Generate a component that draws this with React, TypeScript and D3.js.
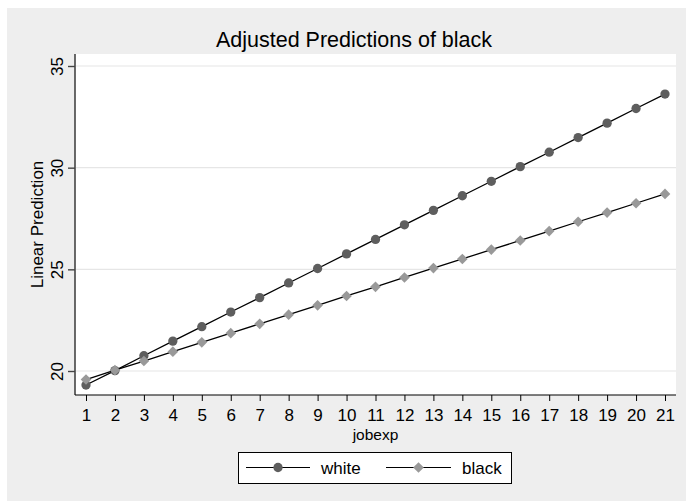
import React, { useEffect, useRef } from 'react';
import * as d3 from 'd3';

const jobexp = [1, 2, 3, 4, 5, 6, 7, 8, 9, 10, 11, 12, 13, 14, 15, 16, 17, 18, 19, 20, 21];
const white = [19.31, 20.02, 20.75, 21.47, 22.18, 22.9, 23.61, 24.33, 25.04, 25.76, 26.47,
  27.19, 27.9, 28.62, 29.33, 30.05, 30.76, 31.48, 32.19, 32.91, 33.62];
const black = [19.58, 20.04, 20.49, 20.95, 21.41, 21.86, 22.32, 22.77, 23.23, 23.69, 24.14,
  24.6, 25.06, 25.51, 25.97, 26.42, 26.88, 27.34, 27.79, 28.25, 28.71];
const yTicks = [20, 25, 30, 35];

function App() {
  const ref = useRef<HTMLDivElement>(null);
  const width = 686;
  const height = 501;
  const font = '"Liberation Sans", Arial, sans-serif';

  useEffect(() => {
    if (!ref.current) return;
    d3.select(ref.current).select('svg').remove();

    const svg = d3.select(ref.current)
      .append('svg')
      .attr('width', width)
      .attr('height', height)
      .style('display', 'block')
      .style('font-family', font);

    // outer background
    svg.append('rect')
      .attr('x', 7).attr('y', 8)
      .attr('width', width - 7).attr('height', height - 8)
      .attr('fill', '#eeeeee');

    // plot region
    const left = 75, right = 676, top = 54, bottom = 395;
    svg.append('rect')
      .attr('x', left).attr('y', top)
      .attr('width', right - left).attr('height', bottom - top)
      .attr('fill', '#ffffff');

    const x = d3.scaleLinear().domain([1, 21]).range([86, 665]);
    const y = d3.scaleLinear().domain([20, 35]).range([371, 66]);

    // grid
    svg.append('g').selectAll('line')
      .data(yTicks)
      .enter()
      .append('line')
      .attr('x1', left + 1).attr('x2', right)
      .attr('y1', d => y(d)).attr('y2', d => y(d))
      .attr('stroke', '#e6e6e6')
      .attr('stroke-width', 1.2);

    // y axis
    const yAxis = svg.append('g')
      .attr('transform', `translate(${left},0)`)
      .call(d3.axisLeft(y).tickValues(yTicks).tickSize(7).tickPadding(5).tickFormat(d3.format('d')));
    yAxis.select('.domain').attr('d', `M0,${top}V${bottom}`).attr('stroke', '#444').attr('stroke-width', 1.6);
    yAxis.selectAll('.tick line').attr('stroke', '#444').attr('stroke-width', 1.4);
    yAxis.selectAll('.tick text')
      .attr('transform', 'rotate(-90)')
      .attr('x', 0).attr('y', -12)
      .attr('dy', 0)
      .style('text-anchor', 'middle')
      .attr('fill', '#000')
      .style('font-size', '17px')
      .style('font-family', font);

    // x axis
    const xAxis = svg.append('g')
      .attr('transform', `translate(0,${bottom})`)
      .call(d3.axisBottom(x).tickValues(jobexp).tickSize(6).tickPadding(4).tickFormat(d3.format('d')));
    xAxis.select('.domain').attr('d', `M${left},0H${right}`).attr('stroke', '#000').attr('stroke-width', 1.2);
    xAxis.selectAll('.tick line').attr('stroke', '#000');
    xAxis.selectAll('.tick text')
      .attr('y', 26).attr('dy', 0)
      .attr('fill', '#000')
      .style('font-size', '17px')
      .style('font-family', font);

    // axis titles
    svg.append('text')
      .attr('x', (left + right) / 2).attr('y', 439.5)
      .attr('text-anchor', 'middle')
      .style('font-size', '15.5px')
      .text('jobexp');
    svg.append('text')
      .attr('transform', `translate(43,${(top + bottom) / 2}) rotate(-90)`)
      .attr('text-anchor', 'middle')
      .style('font-size', '17px')
      .text('Linear Prediction');

    // title
    svg.append('text')
      .attr('x', 354).attr('y', 47)
      .attr('text-anchor', 'middle')
      .style('font-size', '21.5px')
      .text('Adjusted Predictions of black');

    const line = d3.line<number>()
      .x((_, i) => x(jobexp[i]))
      .y(d => y(d));

    const diamond = d3.symbol().type(d3.symbolDiamond2).size(72);
    const circle = d3.symbol().type(d3.symbolCircle).size(68);

    // white series
    svg.append('path')
      .datum(white)
      .attr('d', line)
      .attr('fill', 'none')
      .attr('stroke', '#000')
      .attr('stroke-width', 1.3);
    svg.append('g').selectAll('path')
      .data(white)
      .enter()
      .append('path')
      .attr('d', circle)
      .attr('transform', (d, i) => `translate(${x(jobexp[i])},${y(d)})`)
      .attr('fill', '#5e5e5e');

    // black series
    svg.append('path')
      .datum(black)
      .attr('d', line)
      .attr('fill', 'none')
      .attr('stroke', '#000')
      .attr('stroke-width', 1.3);
    svg.append('g').selectAll('path')
      .data(black)
      .enter()
      .append('path')
      .attr('d', diamond)
      .attr('transform', (d, i) => `translate(${x(jobexp[i])},${y(d)})`)
      .attr('fill', '#999999');

    // legend
    const lg = svg.append('g');
    lg.append('rect')
      .attr('x', 238.5).attr('y', 452.5)
      .attr('width', 273).attr('height', 31)
      .attr('fill', '#fff')
      .attr('stroke', '#000');
    const items = [
      { name: 'white', x0: 246, x1: 310, text: 321, sym: circle, color: '#5e5e5e' },
      { name: 'black', x0: 386, x1: 451, text: 462, sym: diamond, color: '#999999' },
    ];
    items.forEach(it => {
      lg.append('line')
        .attr('x1', it.x0).attr('x2', it.x1)
        .attr('y1', 467.5).attr('y2', 467.5)
        .attr('stroke', '#000').attr('stroke-width', 1.2);
      lg.append('path')
        .attr('d', it.sym)
        .attr('transform', `translate(${(it.x0 + it.x1) / 2},467.5)`)
        .attr('fill', it.color);
      lg.append('text')
        .attr('x', it.text).attr('y', 474)
        .style('font-size', '17px')
        .text(it.name);
    });
  }, []);

  return (
    <div style={{ position: 'absolute', left: 0, top: 0 }}>
      <div ref={ref}></div>
    </div>
  );
}

export default App;
